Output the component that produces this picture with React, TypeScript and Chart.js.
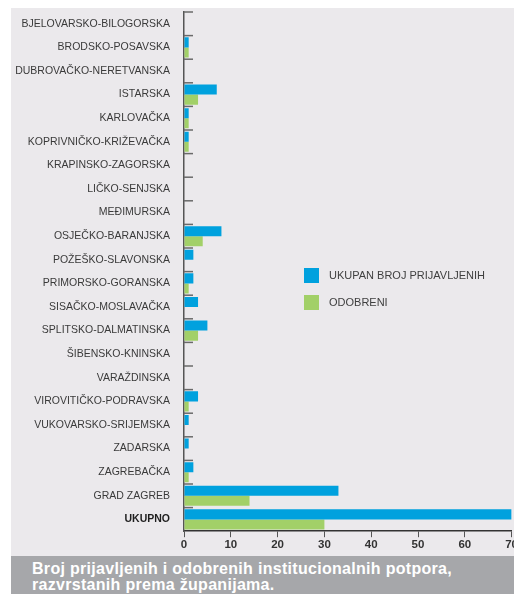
import React, { useEffect, useRef } from "react";
import { Chart, registerables } from "chart.js";

Chart.register(...registerables);

const categories = [
  "BJELOVARSKO-BILOGORSKA",
  "BRODSKO-POSAVSKA",
  "DUBROVAČKO-NERETVANSKA",
  "ISTARSKA",
  "KARLOVAČKA",
  "KOPRIVNIČKO-KRIŽEVAČKA",
  "KRAPINSKO-ZAGORSKA",
  "LIČKO-SENJSKA",
  "MEĐIMURSKA",
  "OSJEČKO-BARANJSKA",
  "POŽEŠKO-SLAVONSKA",
  "PRIMORSKO-GORANSKA",
  "SISAČKO-MOSLAVAČKA",
  "SPLITSKO-DALMATINSKA",
  "ŠIBENSKO-KNINSKA",
  "VARAŽDINSKA",
  "VIROVITIČKO-PODRAVSKA",
  "VUKOVARSKO-SRIJEMSKA",
  "ZADARSKA",
  "ZAGREBAČKA",
  "GRAD ZAGREB",
  "UKUPNO",
];

const totalApplications = [0, 1, 0, 7, 1, 1, 0, 0, 0, 8, 2, 2, 3, 5, 0, 0, 3, 1, 1, 2, 33, 70];
const approved = [0, 1, 0, 3, 1, 1, 0, 0, 0, 4, 0, 1, 0, 3, 0, 0, 1, 0, 0, 1, 14, 30];

const xMin = 0;
const xMax = 70;
const xStep = 10;

const seriesLabels = ["UKUPAN BROJ PRIJAVLJENIH", "ODOBRENI"];
const seriesColors = ["#00a1de", "#a2d068"];

const captionLines = [
  "Broj prijavljenih i odobrenih institucionalnih potpora,",
  "razvrstanih prema županijama.",
];

const FONT = "'Liberation Sans', Arial, sans-serif";

export default function App() {
  const ref = useRef<HTMLCanvasElement>(null);

  useEffect(() => {
    if (!ref.current) return;
    const innerTicks = {
      id: "innerTicks",
      afterDatasetsDraw(chart: any) {
        const y = chart.scales.y;
        const { ctx, chartArea } = chart;
        const n = categories.length;
        ctx.save();
        ctx.strokeStyle = "#6a6a6a";
        ctx.lineWidth = 1.5;
        for (let i = 0; i < n; i++) {
          const py =
            i === 0
              ? chartArea.top
              : (y.getPixelForValue(i - 1) + y.getPixelForValue(i)) / 2;
          ctx.beginPath();
          ctx.moveTo(chartArea.left, py);
          ctx.lineTo(chartArea.left + 9, py);
          ctx.stroke();
        }
        ctx.restore();
      },
    };

    const chart = new Chart(ref.current, {
      type: "bar",
      data: {
        labels: categories,
        datasets: [
          {
            label: seriesLabels[0],
            data: totalApplications,
            backgroundColor: seriesColors[0],
            borderWidth: 0,
            barPercentage: 1,
            categoryPercentage: 0.85,
          },
          {
            label: seriesLabels[1],
            data: approved,
            backgroundColor: seriesColors[1],
            borderWidth: 0,
            barPercentage: 1,
            categoryPercentage: 0.85,
          },
        ],
      },
      options: {
        indexAxis: "y",
        responsive: false,
        animation: false,
        layout: { padding: { top: 4, bottom: 3, left: 0, right: 0 } },
        plugins: {
          legend: { display: false },
          tooltip: { enabled: false },
        },
        scales: {
          x: {
            type: "linear",
            min: xMin,
            max: xMax,
            ticks: {
              stepSize: xStep,
              padding: 1,
              color: "#333333",
              font: { family: FONT, size: 11.5, weight: "bold" },
            },
            grid: {
              drawOnChartArea: false,
              drawTicks: true,
              tickLength: 6,
              color: "#555555",
              lineWidth: 1,
            },
            border: { color: "#333333", width: 1.5 },
          },
          y: {
            type: "category",
            afterFit: (scale: any) => {
              scale.width = 173;
              scale.paddingTop = 0;
              scale.paddingBottom = 0;
            },
            ticks: {
              padding: 14,
              autoSkip: false,
              color: (c: any) => (c.index === categories.length - 1 ? "#1e1e1e" : "#3a3a3a"),
              font: (c: any) => ({
                family: FONT,
                size: 10.5,
                weight: c.index === categories.length - 1 ? "bold" : "normal",
              }),
            },
            grid: { drawOnChartArea: false, drawTicks: false },
            border: { color: "#555555", width: 1.5 },
          },
        },
      },
      plugins: [innerTicks],
    } as any);

    return () => chart.destroy();
  }, []);

  return (
    <div
      style={{
        position: "fixed",
        left: 0,
        top: 0,
        width: 514,
        height: 594,
        overflow: "hidden",
        background: "#ffffff",
        fontFamily: FONT,
      }}
    >
      <div
        style={{
          position: "absolute",
          left: 11,
          top: 8,
          width: 503,
          height: 548,
          background: "#ebe9ec",
        }}
      />
      <canvas
        ref={ref}
        width={508}
        height={548}
        style={{ position: "absolute", left: 11, top: 8 }}
      />
      <div style={{ position: "absolute", left: 304, top: 268 }}>
        {seriesLabels.map((lbl, i) => (
          <div
            key={lbl}
            style={{
              position: "absolute",
              left: 0,
              top: i * 27,
              display: "flex",
              alignItems: "center",
              whiteSpace: "nowrap",
            }}
          >
            <div style={{ width: 15, height: 15, background: seriesColors[i] }} />
            <div
              style={{
                marginLeft: 10,
                fontSize: 11,
                color: "#404040",
                lineHeight: "15px",
              }}
            >
              {lbl}
            </div>
          </div>
        ))}
      </div>
      <div
        style={{
          position: "absolute",
          left: 11,
          top: 556,
          width: 503,
          height: 38,
          background: "#a6a7aa",
          color: "#ffffff",
          fontWeight: "bold",
          fontSize: 16,
          lineHeight: "16px",
          paddingLeft: 21,
          paddingTop: 5,
          boxSizing: "border-box",
          letterSpacing: 0.3,
          overflow: "hidden",
        }}
      >
        {captionLines.map((l) => (
          <div key={l} style={{ whiteSpace: "nowrap" }}>{l}</div>
        ))}
      </div>
    </div>
  );
}
